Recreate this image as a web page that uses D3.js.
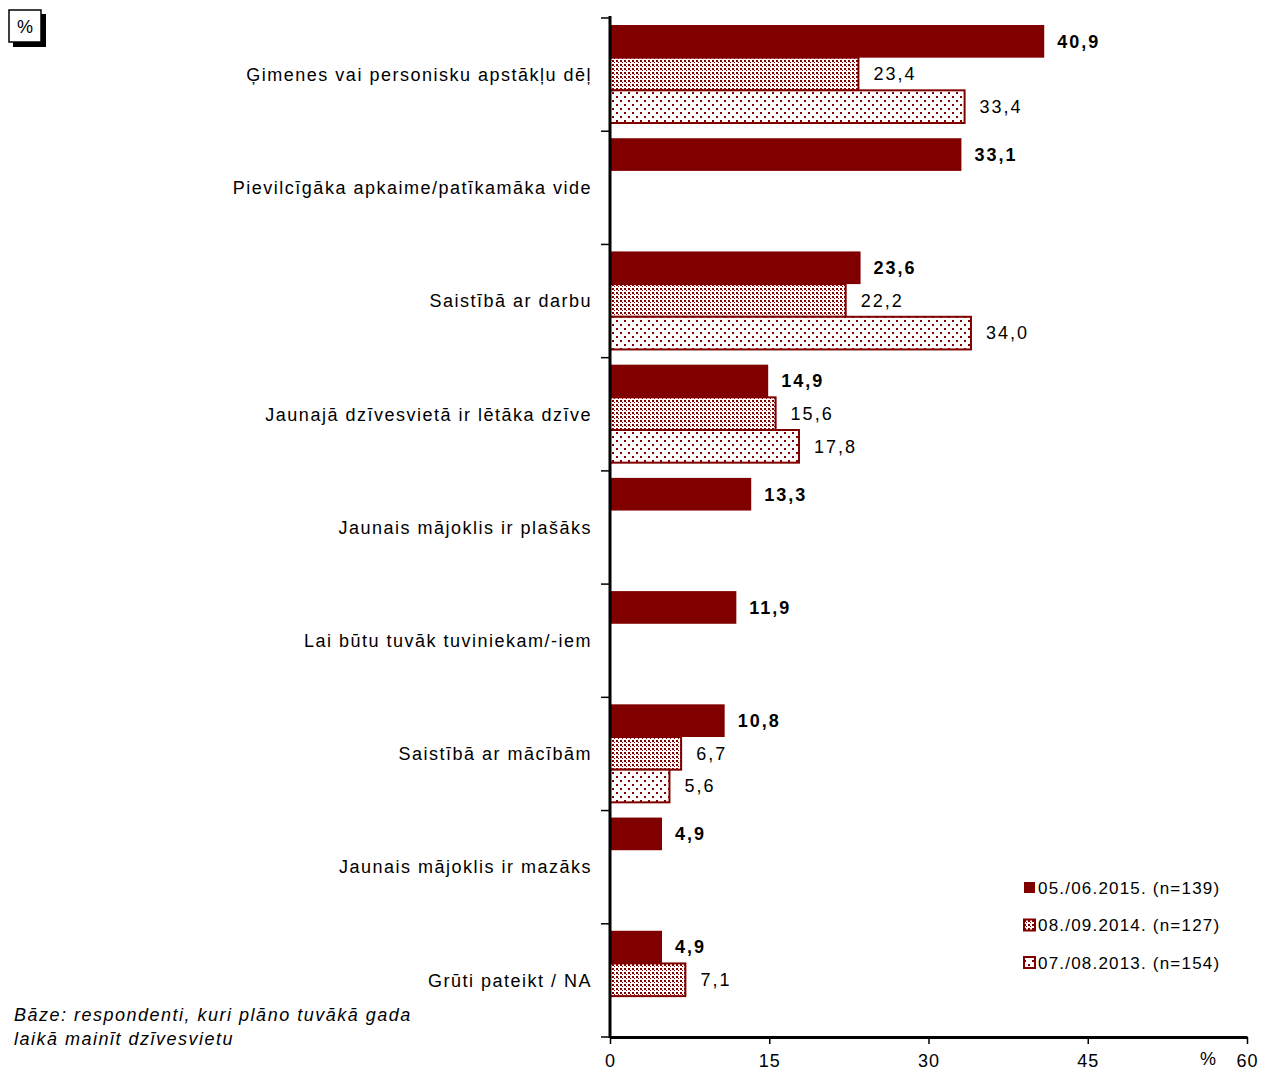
<!DOCTYPE html>
<html><head><meta charset="utf-8">
<script src="https://cdn.jsdelivr.net/npm/d3@7"></script>
<style>body{margin:0;background:#fff}svg{display:block;font-family:"Liberation Sans",Arial,sans-serif}</style>
</head><body><svg id="c" width="1269" height="1073"></svg>
<script>
const categories = ["Ģimenes vai personisku apstākļu dēļ","Pievilcīgāka apkaime/patīkamāka vide","Saistībā ar darbu","Jaunajā dzīvesvietā ir lētāka dzīve","Jaunais  mājoklis ir plašāks","Lai būtu tuvāk tuviniekam/-iem","Saistībā ar mācībām","Jaunais  mājoklis ir mazāks","Grūti pateikt / NA"];
const seriesNames = ["05./06.2015. (n=139)","08./09.2014. (n=127)","07./08.2013. (n=154)"];
const s2015 = [40.9,33.1,23.6,14.9,13.3,11.9,10.8,4.9,4.9];
const s2014 = [23.4,null,22.2,15.6,null,null,6.7,null,7.1];
const s2013 = [33.4,null,34.0,17.8,null,null,5.6,null,null];
const xTicks = [0,15,30,45,60];
const seriesValues = [s2015,s2014,s2013];
const red = "#800000";
const svg = d3.select("#c");
const defs = svg.append("defs");
const p1 = defs.append("pattern").attr("id","p2014").attr("patternUnits","userSpaceOnUse").attr("width",4).attr("height",4);
p1.append("rect").attr("width",4).attr("height",4).attr("fill","#fff");
p1.append("rect").attr("width",2).attr("height",2).attr("fill",red);
p1.append("rect").attr("x",2).attr("y",2).attr("width",1).attr("height",1).attr("fill",red);
const p2 = defs.append("pattern").attr("id","p2013").attr("patternUnits","userSpaceOnUse").attr("width",8).attr("height",8);
p2.append("rect").attr("width",8).attr("height",8).attr("fill","#fff");
p2.append("rect").attr("width",2).attr("height",2).attr("fill",red);
p2.append("rect").attr("x",4).attr("y",4).attr("width",2).attr("height",2).attr("fill",red);
const fills = [red,"url(#p2014)","url(#p2013)"];

const x = d3.scaleLinear().domain([0,60]).range([610,1247]);
const y = d3.scaleBand().domain(categories).range([18,1037]).paddingInner(0);
const yi = d3.scaleBand().domain([0,1,2]).range([7,105]);

// bars
seriesValues.forEach((vals,si)=>{
  const g = svg.append("g");
  categories.forEach((c,ci)=>{
    const v = vals[ci];
    if(v==null) return;
    const y0 = y(c)+yi(si);
    g.append("rect").attr("x",x(0)).attr("y",y0).attr("width",x(v)-x(0)).attr("height",yi.bandwidth())
      .attr("fill",fills[si]).attr("stroke",si===0?"none":red).attr("stroke-width",si===0?0:2);
    g.append("text").attr("x",x(v)+(si===0?13:15)).attr("y",y0+yi.bandwidth()/2).attr("dy","0.35em")
      .attr("font-size",18).attr("letter-spacing","2px").attr("font-weight",si===0?"bold":"normal").attr("fill","#000")
      .text(d3.format(".1f")(v).replace(".",","));
  });
});

// category labels
svg.append("g").selectAll("text").data(categories).join("text")
  .attr("x",592).attr("y",d=>y(d)+y.bandwidth()/2).attr("dy","0.35em").attr("text-anchor","end")
  .attr("font-size",18).attr("letter-spacing","1.5px").attr("fill","#000").text(d=>d);

// y axis
const yEdges = d3.range(10).map(i=>18+i*y.step());
svg.append("line").attr("x1",610).attr("x2",610).attr("y1",16).attr("y2",1038).attr("stroke","#000").attr("stroke-width",3);
svg.append("g").selectAll("line").data(yEdges).join("line")
  .attr("x1",601).attr("x2",610).attr("y1",d=>d).attr("y2",d=>d).attr("stroke","#000").attr("stroke-width",1.5);

// x axis
const xa = svg.append("g").attr("transform","translate(0,1037)")
  .call(d3.axisBottom(x).tickValues(xTicks).tickSize(7).tickSizeOuter(0).tickFormat(d3.format("d")));
xa.select(".domain").attr("stroke-width",3);
xa.selectAll(".tick line").attr("stroke-width",1.5);
xa.selectAll(".tick text").attr("font-size",18).attr("letter-spacing","1px").attr("font-family","Liberation Sans,Arial,sans-serif").attr("dy","1.1em");
svg.append("text").attr("x",1208).attr("y",1065).attr("text-anchor","middle").attr("font-size",18).text("%");

// top-left % box
svg.append("rect").attr("x",13).attr("y",14).attr("width",33).attr("height",33).attr("fill","#000");
svg.append("rect").attr("x",9).attr("y",10).attr("width",32).attr("height",32).attr("fill","#fff").attr("stroke","#000").attr("stroke-width",1.5);
svg.append("text").attr("x",25).attr("y",27).attr("dy","0.35em").attr("text-anchor","middle").attr("font-size",18).text("%");

// legend
const lg = svg.append("g");
seriesNames.forEach((n,i)=>{
  const ly = 888+i*37.5;
  lg.append("rect").attr("x",1024).attr("y",ly-6).attr("width",11).attr("height",11).attr("fill",fills[i]).attr("stroke",i===0?"none":red).attr("stroke-width",2);
  lg.append("text").attr("x",1038).attr("y",ly).attr("dy","0.35em").attr("font-size",17).attr("letter-spacing","1.2px").text(n);
});

// footnote
const fn = svg.append("text").attr("font-size",18).attr("font-style","italic").attr("letter-spacing","1.5px").attr("fill","#000");
fn.append("tspan").attr("x",14).attr("y",1021).text("Bāze: respondenti, kuri plāno tuvākā gada");
fn.append("tspan").attr("x",14).attr("y",1045).text("laikā mainīt dzīvesvietu");
</script></body></html>
